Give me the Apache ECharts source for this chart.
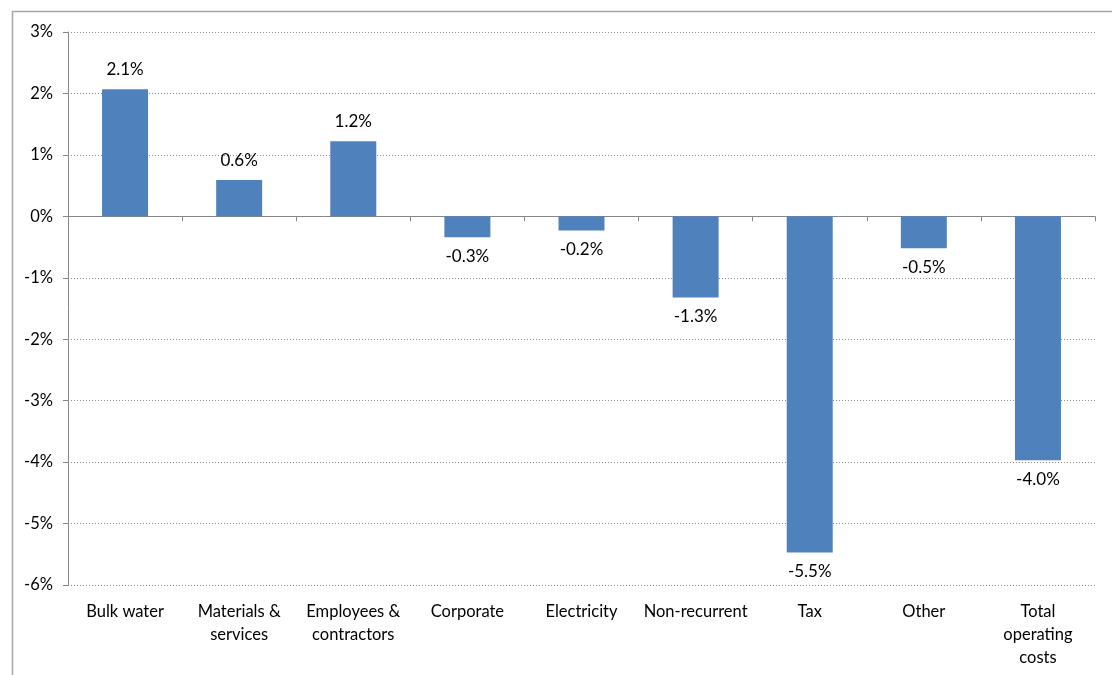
<!DOCTYPE html>
<html>
<head>
<meta charset="utf-8">
<script src="https://cdn.jsdelivr.net/npm/echarts@6/dist/echarts.min.js"></script>
<style>html,body{margin:0;padding:0;background:#fff}#c{width:1112px;height:675px}</style>
</head>
<body>
<div id="c"></div>
<script>
const categories = ['Bulk water', 'Materials &\nservices', 'Employees &\ncontractors', 'Corporate', 'Electricity', 'Non-recurrent', 'Tax', 'Other', 'Total\noperating\ncosts'];
const values = [2.07, 0.59, 1.22, -0.34, -0.23, -1.32, -5.47, -0.52, -3.97];
const yTicks = [-6, -5, -4, -3, -2, -1, 0, 1, 2, 3];

const font = 'Lato, "Open Sans", sans-serif';
const chart = echarts.init(document.getElementById('c'));
chart.setOption({
  animation: false,
  backgroundColor: '#fff',
  graphic: [{
    type: 'rect', left: 10, top: 9, shape: { width: 1300, height: 900 },
    style: { fill: 'none', stroke: '#a6a6a6', lineWidth: 1.5 }, silent: true, z: -1
  }],
  grid: { left: 68, right: 17, top: 32, bottom: 90 },
  xAxis: [{
    type: 'category', data: categories, position: 'bottom',
    axisLine: { onZero: true, lineStyle: { color: '#868686', width: 1 } },
    axisTick: { show: true, length: 5, lineStyle: { color: '#868686' } },
    axisLabel: { show: false }, splitLine: { show: false }
  }, {
    type: 'category', data: categories, position: 'bottom',
    axisLine: { show: false, onZero: false }, axisTick: { show: false },
    axisLabel: { show: true, interval: 0, margin: 15, color: '#000', fontSize: 16.5, fontFamily: font, lineHeight: 23 }
  }],
  yAxis: {
    type: 'value', min: -6, max: 3, interval: 1,
    axisLine: { show: true, lineStyle: { color: '#868686' } },
    axisTick: { show: true, length: 5, lineStyle: { color: '#868686' } },
    axisLabel: { formatter: v => v + '%', color: '#000', fontSize: 16.5, fontFamily: font, margin: 15 },
    splitLine: { show: true, lineStyle: { color: '#8c8c8c', type: [1, 2], width: 1 } }
  },
  series: [{
    type: 'bar', xAxisIndex: 0, barWidth: 46,
    itemStyle: { color: '#4F81BD' },
    data: values.map(v => ({
      value: v,
      label: { position: v < 0 ? 'bottom' : 'top' }
    })),
    label: {
      show: true, distance: 11, color: '#000', fontSize: 17, fontFamily: font,
      formatter: p => p.value.toFixed(1) + '%'
    }
  }]
});
</script>
</body>
</html>
